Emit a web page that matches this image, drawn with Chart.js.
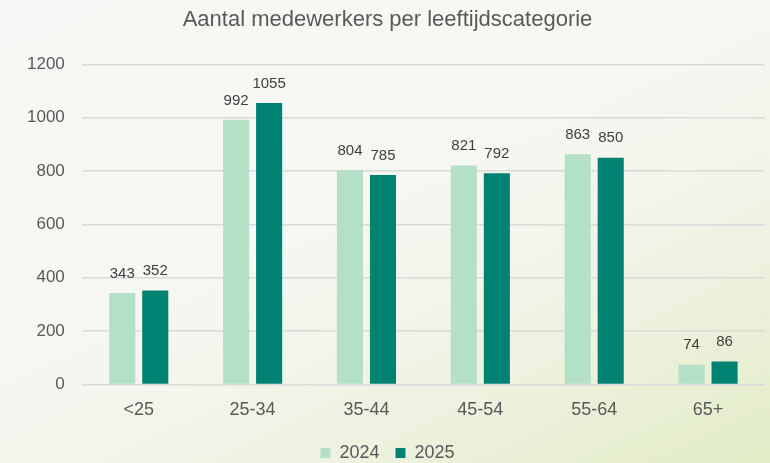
<!DOCTYPE html>
<html>
<head>
<meta charset="utf-8">
<script src="https://cdn.jsdelivr.net/npm/chart.js@4"></script>
<style>
  html, body { margin: 0; padding: 0; }
  body {
    width: 770px; height: 463px; overflow: hidden;
    background: linear-gradient(155deg, #f8f7f5 0%, #f7f7f3 45%, #eef2e0 75%, #e2ecc6 100%);
  }
</style>
</head>
<body>
<canvas id="ageChart" width="770" height="463"></canvas>
<script>
const categories = ['<25', '25-34', '35-44', '45-54', '55-64', '65+'];
const values2024 = [343, 992, 804, 821, 863, 74];
const values2025 = [352, 1055, 785, 792, 850, 86];
const seriesLabels = ['2024', '2025'];

const fontFamily = '"Liberation Sans", Arial, sans-serif';

// waarden boven de staven tekenen
const barValueLabels = {
  id: 'barValueLabels',
  afterDatasetsDraw(chart) {
    const ctx = chart.ctx;
    ctx.save();
    ctx.font = '15px ' + fontFamily;
    ctx.fillStyle = '#404040';
    ctx.textAlign = 'center';
    ctx.textBaseline = 'bottom';
    chart.data.datasets.forEach((ds, i) => {
      chart.getDatasetMeta(i).data.forEach((bar, j) => {
        ctx.fillText(ds.data[j], bar.x, bar.y - 12);
      });
    });
    ctx.restore();
  }
};

new Chart(document.getElementById('ageChart').getContext('2d'), {
  type: 'bar',
  data: {
    labels: categories,
    datasets: [
      { label: seriesLabels[0], data: values2024, backgroundColor: '#b3e0c6' },
      { label: seriesLabels[1], data: values2025, backgroundColor: '#008272' }
    ]
  },
  options: {
    responsive: false,
    animation: false,
    layout: { padding: { left: 10, right: 5, top: 0, bottom: -9 } },
    datasets: {
      bar: { categoryPercentage: 0.58, barPercentage: 0.79 }
    },
    scales: {
      x: {
        grid: { display: false },
        border: { display: false },
        ticks: { color: '#595959', font: { size: 18, family: fontFamily }, padding: 7 }
      },
      y: {
        min: 0, max: 1200,
        ticks: {
          stepSize: 200, color: '#595959', padding: 17,
          font: { size: 17, family: fontFamily },
          callback: (v) => String(v)
        },
        grid: { color: '#dadada', lineWidth: 1.5, drawTicks: false },
        border: { display: false }
      }
    },
    plugins: {
      title: {
        display: true,
        text: 'Aantal medewerkers per leeftijdscategorie',
        color: '#595959',
        font: { size: 22, weight: 'normal', family: fontFamily },
        padding: { top: 7, bottom: 31 }
      },
      legend: {
        position: 'bottom',
        labels: {
          color: '#595959',
          font: { size: 18, family: fontFamily },
          boxWidth: 10, boxHeight: 10, padding: 16
        }
      },
      tooltip: { enabled: false }
    }
  },
  plugins: [barValueLabels]
});
</script>
</body>
</html>
